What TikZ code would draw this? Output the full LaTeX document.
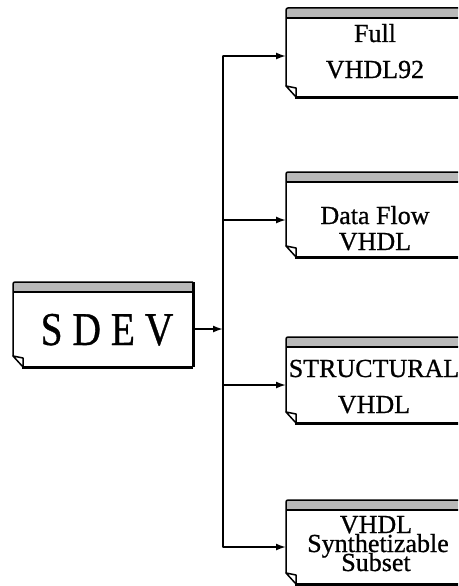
\documentclass[tikz,border=0pt]{standalone}
\usepackage{fontspec}
\setmainfont{Liberation Serif}
\newfontfamily\scanfont[FakeBold=0.8]{Liberation Serif}
\usetikzlibrary{arrows.meta,calc}
\tikzset{
  boxbody/.style={rectangle, minimum width=180pt, inner sep=0pt, outer sep=0pt},
  thinedge/.style={line width=1.5pt, line join=round},
  thickedge/.style={line width=3pt},
  boxtext/.style={anchor=base, inner sep=0pt, font=\scanfont\fontsize{26}{26}\selectfont},
  bigtext/.style={anchor=base, inner sep=0pt, font=\scanfont\fontsize{47}{47}\selectfont},
  conn/.style={line width=1.7pt},
  arr/.style={conn, -{Latex[length=10pt,width=7pt]}},
}
\newcommand\docbox[4]{% name, left x, top y, height
  \node[boxbody, minimum height=#4pt, anchor=north west] (#1) at (#2pt,-#3pt) {};
  \fill[gray!55] (#1.north west) rectangle ($(#1.north east)+(0,-10pt)$);
  \draw[thinedge] ($(#1.north east)+(0,-10pt)$) -- ($(#1.north west)+(0,-10pt)$);
  \draw[thinedge] ($(#1.south west)+(0,11pt)$) -- ($(#1.north west)+(0,-2pt)$)
     arc[start angle=180, end angle=90, radius=2pt] -- (#1.north east);
  \draw[thinedge] ($(#1.south west)+(0,11pt)$) -- ($(#1.south west)+(10pt,9pt)$) -- ($(#1.south west)+(10pt,0)$)
     -- cycle;
  \draw[thickedge] ($(#1.south west)+(9pt,0)$) -- (#1.south east);
  \draw[thickedge] (#1.north east) -- (#1.south east);
}
\begin{document}
\begin{tikzpicture}[x=1pt,y=1pt]
\useasboundingbox (0,0) rectangle (458,-586);
\clip (0,0) rectangle (458,-586);
\docbox{sdev}{13}{282}{85}
\docbox{full}{286}{8}{89}
\docbox{flow}{286}{172}{85}
\docbox{struct}{286}{337}{86}
\docbox{synth}{286}{500}{84}
% texts
\node[bigtext] (tsdev) at (107,-345) {\scalebox{0.84}[1]{S D E V}};
\node[boxtext] (t1a) at (375,-42) {Full};
\node[boxtext] (t1b) at (375,-78) {VHDL92};
\node[boxtext] (t2a) at (375,-224) {Data Flow};
\node[boxtext] (t2b) at (375,-250) {VHDL};
\node[boxtext] (t3a) at (374,-377) {STRUCTURAL};
\node[boxtext] (t3b) at (374,-413) {VHDL};
\node[boxtext] (t4a) at (376,-533) {VHDL};
\node[boxtext] (t4b) at (378,-552) {Synthetizable};
\node[boxtext] (t4c) at (376,-571) {Subset};
% bus
\coordinate (j0) at (223,-329);
\coordinate (j1) at (223,-56);
\coordinate (j2) at (223,-220);
\coordinate (j3) at (223,-385);
\coordinate (j4) at (223,-547);
\draw[conn, line cap=round, line join=round] (j1) -- (j4);
\draw[arr] (sdev.east |- j0) -- (j0);
\draw[arr] (j1) -- (j1 -| full.west);
\draw[arr] (j2) -- (j2 -| flow.west);
\draw[arr] (j3) -- (j3 -| struct.west);
\draw[arr] (j4) -- (j4 -| synth.west);
\end{tikzpicture}
\end{document}
